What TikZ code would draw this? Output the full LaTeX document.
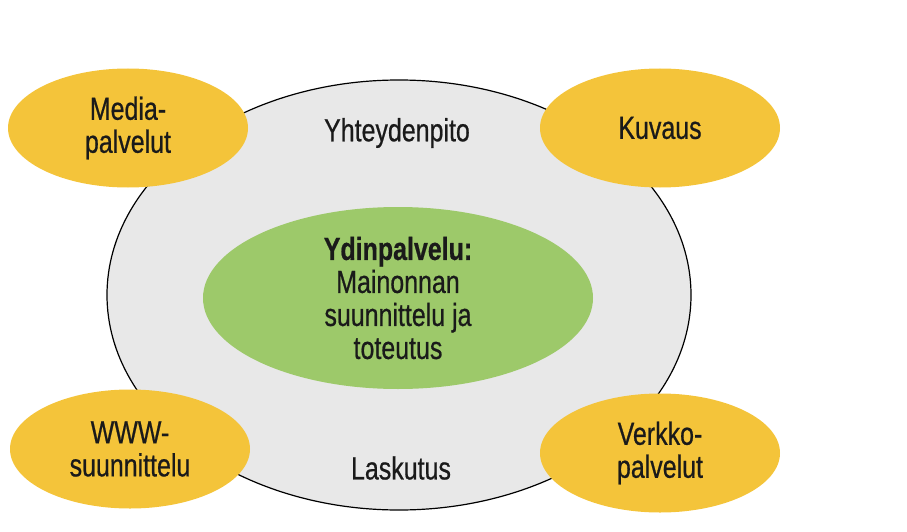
\documentclass[tikz,border=0pt]{standalone}
\usepackage{fontspec}
\setmainfont{Liberation Sans}[FakeStretch=0.78,FakeBold=0.6]
\usetikzlibrary{shapes.geometric}
\definecolor{ringgrey}{HTML}{E8E8E8}
\definecolor{coregreen}{HTML}{9DC96A}
\definecolor{svcyellow}{HTML}{F4C43A}
\definecolor{txt}{HTML}{1A1A1A}
\tikzset{
  ring/.style={ellipse, fill=ringgrey, draw=black, line width=1.2pt, minimum width=584pt, minimum height=430pt, inner sep=0pt},
  core/.style={ellipse, fill=coregreen, minimum width=390pt, minimum height=182pt, inner sep=0pt, align=center, text=txt, font=\fontsize{32}{33}\selectfont},
  svc/.style={ellipse, fill=svcyellow, minimum width=240pt, minimum height=119pt, inner sep=0pt, align=center, text=txt, font=\fontsize{32}{33}\selectfont},
  lbl/.style={font=\fontsize{32}{33}\selectfont, text=txt, inner sep=0pt}
}
\begin{document}
\begin{tikzpicture}[x=1pt,y=-1pt]
\useasboundingbox (0,0) rectangle (907,532);
\node[ring] (ring) at (399,295) {};
\node[core] (core) at (398,298) {\textbf{Ydinpalvelu:}\\Mainonnan\\suunnittelu ja\\toteutus};
\node[lbl] (yht) at (397,133) {Yhteydenpito};
\node[lbl] (las) at (401,468) {Laskutus};
\node[svc] (media) at (128,128) {Media-\\palvelut};
\node[svc] (kuvaus) at (660,128) {Kuvaus};
\node[svc] (www) at (130,449) {WWW-\\suunnittelu};
\node[svc] (verkko) at (660,453) {Verkko-\\palvelut};
\end{tikzpicture}
\end{document}
